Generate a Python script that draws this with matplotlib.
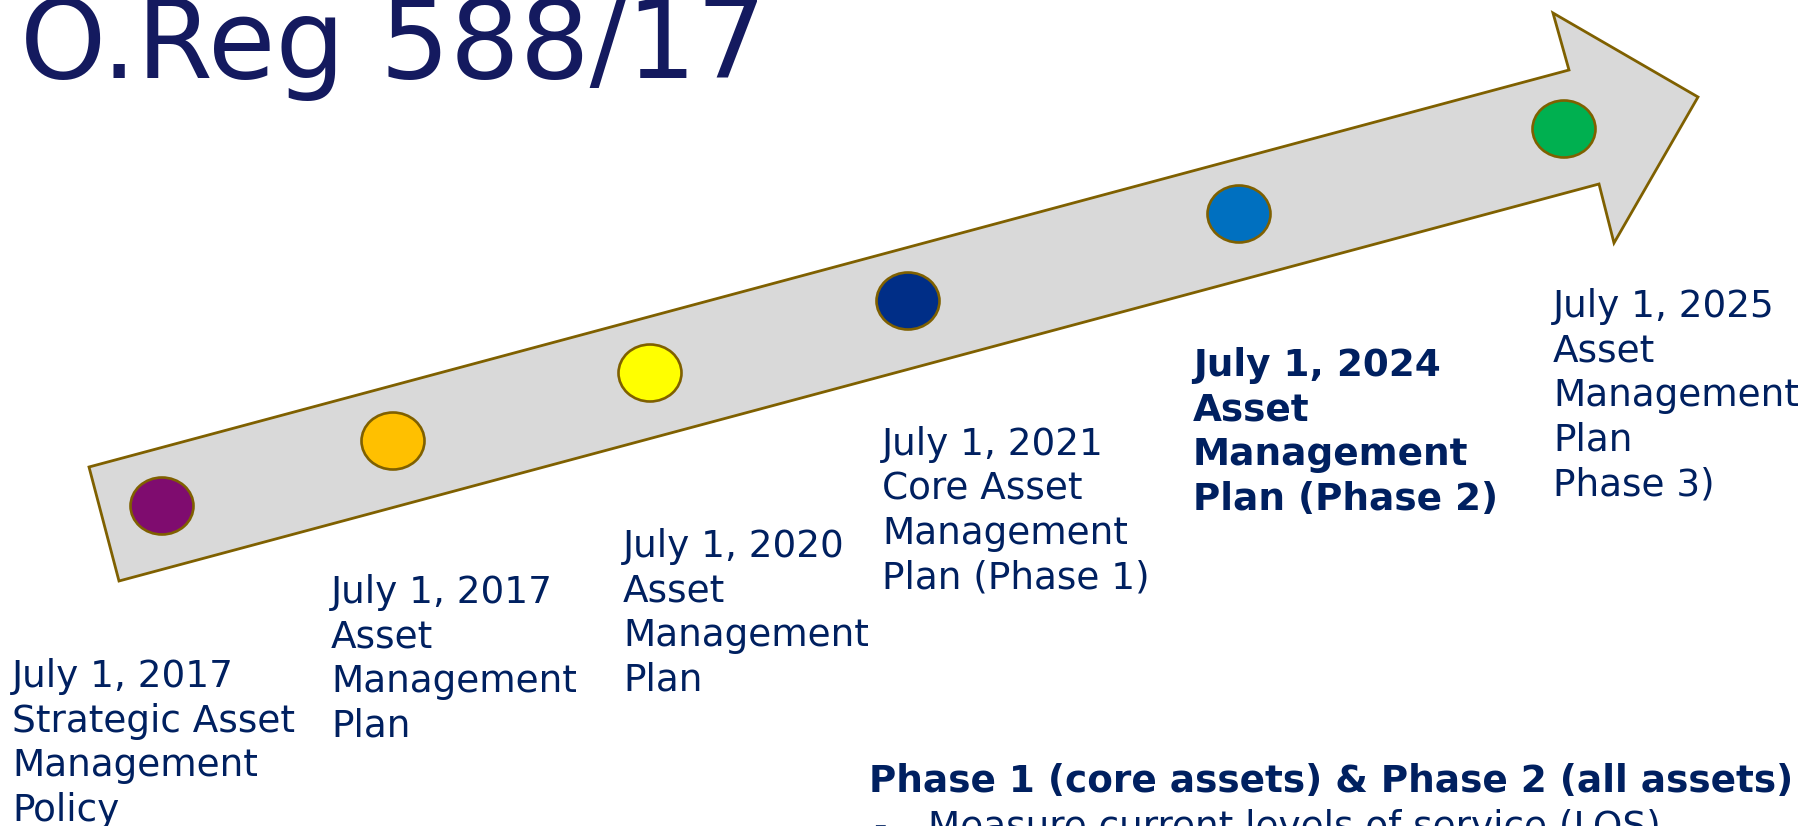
import matplotlib
matplotlib.use("Agg")
import matplotlib.pyplot as plt
from matplotlib.patches import Polygon, Ellipse

# ---------------- data ----------------
title = "O.Reg 588/17"
milestone_colors = ["#7F0C6F", "#FFC000", "#FFFF00", "#002E87", "#0070C0", "#00B050"]
milestone_x = [162, 393, 650, 908, 1239, 1564]
milestone_y = [506, 441, 373, 301, 214, 129]
milestone_labels = [
    ["July 1, 2017", "Strategic Asset", "Management", "Policy"],
    ["July 1, 2017", "Asset", "Management", "Plan"],
    ["July 1, 2020", "Asset", "Management", "Plan"],
    ["July 1, 2021", "Core Asset", "Management", "Plan (Phase 1)"],
    ["July 1, 2024", "Asset", "Management", "Plan (Phase 2)"],
    ["July 1, 2025", "Asset", "Management", "Plan", "Phase 3)"],
]
milestone_bold = [False, False, False, False, True, False]
phase_heading = "Phase 1 (core assets) & Phase 2 (all assets)"
phase_bullets = ["Measure current levels of service (LOS)"]

# ---------------- layout ----------------
W, H = 1802, 826
label_pos = [(12, 687), (331, 603), (623, 557), (882, 455), (1193, 376), (1553, 317)]
line_step = 44.6
arrow_pts = [(89, 467), (1569, 70), (1553, 13), (1698, 97), (1614, 243), (1599, 184), (119, 581)]
FS = 26.9

TEXT = "#002060"
EDGE = "#7F6000"

fig = plt.figure(figsize=(W / 100, H / 100), dpi=100)
ax = fig.add_axes([0, 0, 1, 1])
ax.set_xlim(0, W)
ax.set_ylim(H, 0)
ax.axis("off")

ax.add_patch(Polygon(arrow_pts, closed=True, facecolor="#D9D9D9",
                     edgecolor=EDGE, linewidth=2.0, joinstyle="miter"))

for x, y, c in zip(milestone_x, milestone_y, milestone_colors):
    ax.add_patch(Ellipse((x, y), 63, 57, facecolor=c, edgecolor=EDGE, linewidth=1.9))

ax.text(20, 78, title, fontsize=79, color="#141A5F", va="baseline", ha="left",
        family="DejaVu Sans")

for (x0, y0), lines, bold in zip(label_pos, milestone_labels, milestone_bold):
    for i, ln in enumerate(lines):
        ax.text(x0, y0 + i * line_step, ln, fontsize=FS, color=TEXT,
                fontweight="bold" if bold else "normal",
                va="baseline", ha="left", family="DejaVu Sans")

ax.text(869, 792, phase_heading, fontsize=FS, color=TEXT, fontweight="bold",
        va="baseline", ha="left", family="DejaVu Sans")
for i, b in enumerate(phase_bullets):
    ax.text(873, 837 + i * line_step, "-", fontsize=FS, color=TEXT,
            va="baseline", ha="left", family="DejaVu Sans")
    ax.text(928, 837 + i * line_step, b, fontsize=FS, color=TEXT,
            va="baseline", ha="left", family="DejaVu Sans")

fig.savefig("out.png", dpi=100, facecolor="white")
